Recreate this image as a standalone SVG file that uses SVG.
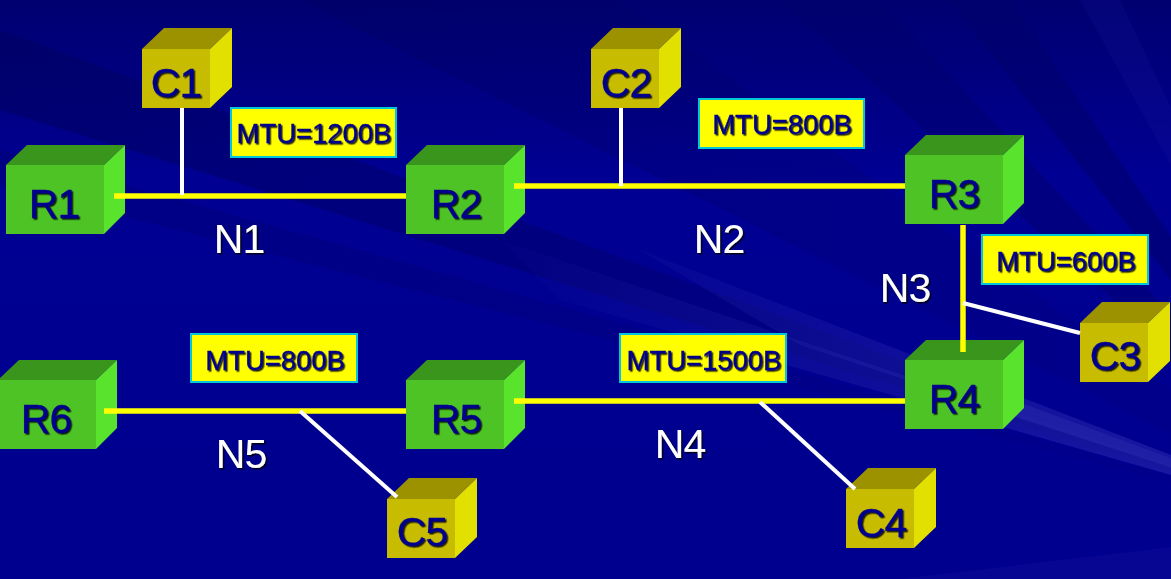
<svg xmlns="http://www.w3.org/2000/svg" width="1171" height="579" viewBox="0 0 1171 579">
<style>
text{font-family:"Liberation Sans",Arial,sans-serif}
.lab{font-size:41px;letter-spacing:-1px;fill:#00008c;stroke:#00008c;stroke-width:.3;text-anchor:middle;filter:url(#sh)}
.mtu{font-size:27.6px;letter-spacing:-.1px;fill:#00008c;stroke:#00008c;stroke-width:.3;text-anchor:middle;filter:url(#sh)}
.n{font-size:41px;letter-spacing:-1px;fill:#fff;text-anchor:middle;filter:url(#sh)}
.box{fill:#ffff00;stroke:#00c8d8;stroke-width:2}
.y{stroke:#ffff00;stroke-width:5.5;fill:none}
.w{stroke:#fff;stroke-width:4;fill:none}
.rf{fill:#4dc325}.rt{fill:#3a951d}.rs{fill:#5ae32c}
.cf{fill:#c8bc00}.ct{fill:#9c9200}.cs{fill:#e2e000}
</style>
<defs>
<linearGradient id="bg" x1="0" y1="0" x2="0" y2="1"><stop offset="0" stop-color="#000070"/><stop offset="0.3" stop-color="#000092"/><stop offset="1" stop-color="#00008e"/></linearGradient>
<linearGradient id="lt" gradientUnits="userSpaceOnUse" x1="1171" y1="0" x2="450" y2="0"><stop offset="0" stop-color="#2a2ab0" stop-opacity=".55"/><stop offset="1" stop-color="#2a2ab0" stop-opacity="0"/></linearGradient>
<linearGradient id="dk" gradientUnits="userSpaceOnUse" x1="0" y1="0" x2="1171" y2="0"><stop offset="0" stop-color="#000060" stop-opacity=".55"/><stop offset="1" stop-color="#000060" stop-opacity=".15"/></linearGradient>
<filter id="sh" x="-10%" y="-10%" width="125%" height="125%"><feDropShadow dx="1.5" dy="1.5" stdDeviation="0.7" flood-color="#000" flood-opacity="0.85"/></filter>
<g id="router"><path class="rf" d="M0 20H98V89H0Z"/><path class="rt" d="M0 20L21 0H119L98 20Z"/><path class="rs" d="M98 20L119 0V68L98 89Z"/></g>
<g id="client"><path class="cf" d="M0 21H68V80H0Z"/><path class="ct" d="M0 21L22 0H90L68 21Z"/><path class="cs" d="M68 21L90 0V59L68 80Z"/></g>
</defs>
<rect width="1171" height="579" fill="url(#bg)"/>
<g id="background-rays">
<path d="M1373 533L0 30V110Z" fill="url(#dk)"/>
<path d="M1373 533L0 150V185Z" fill="url(#dk)" opacity=".5"/>
<path d="M1373 533L300 0H620Z" fill="url(#dk)" opacity=".7"/>
<path d="M1373 533L500 240L560 300Z" fill="url(#lt)"/>
<path d="M1373 533L640 250L800 345Z" fill="url(#lt)"/>
<path d="M1373 533L1000 395L1000 412Z" fill="#2222a8" opacity=".8"/>
<path d="M1373 533L780 0H880Z" fill="#00006c" opacity=".45"/>
<path d="M1373 533L948 0H1010Z" fill="#00006c" opacity=".55"/>
<path d="M1373 533L1080 0H1120Z" fill="#2020a8" opacity=".15"/>
<path d="M1171 547L900 579H1171Z" fill="#1414a0" opacity=".3"/>
</g>
<g id="R1"><use href="#router" x="6" y="145"/><text class="lab" x="54" y="218">R1</text></g>
<g id="R2"><use href="#router" x="406" y="145"/><text class="lab" x="456" y="218">R2</text></g>
<g id="R3"><use href="#router" x="905" y="135"/><text class="lab" x="954" y="208">R3</text></g>
<g id="R4"><use href="#router" x="905" y="340"/><text class="lab" x="954" y="413">R4</text></g>
<g id="R5"><use href="#router" x="406" y="360"/><text class="lab" x="456" y="433">R5</text></g>
<g id="R6"><use href="#router" x="-2" y="360"/><text class="lab" x="46" y="433">R6</text></g>
<g id="C1"><use href="#client" x="142" y="28"/><text class="lab" x="176" y="97">C1</text></g>
<g id="C2"><use href="#client" x="591" y="28"/><text class="lab" x="626" y="97">C2</text></g>
<g id="C3"><use href="#client" x="1080" y="302"/><text class="lab" x="1115" y="370">C3</text></g>
<g id="C4"><use href="#client" x="846" y="468"/><text class="lab" x="881" y="537">C4</text></g>
<g id="C5"><use href="#client" x="387" y="478"/><text class="lab" x="422" y="546">C5</text></g>
<g id="connectors">
<path class="y" d="M114 196H406"/><path class="y" d="M514 186H905"/><path class="y" d="M963 225V352"/><path class="y" d="M514 401H905"/><path class="y" d="M104 411H406"/>
<path class="w" d="M182 108V195"/><path class="w" d="M621 108V186"/><path class="w" d="M963 303L1080 333"/><path class="w" d="M760 402L855 489"/><path class="w" d="M300 411L397 497"/>
</g>
<g id="L1"><rect class="box" x="231" y="108" width="165" height="49"/><text class="mtu" x="314" y="143">MTU=1200B</text></g>
<g id="L2"><rect class="box" x="699" y="99" width="165" height="49"/><text class="mtu" x="782" y="134">MTU=800B</text></g>
<g id="L3"><rect class="box" x="982" y="235" width="166" height="49"/><text class="mtu" x="1066" y="271">MTU=600B</text></g>
<g id="L4"><rect class="box" x="191" y="334" width="166" height="48"/><text class="mtu" x="275" y="370">MTU=800B</text></g>
<g id="L5"><rect class="box" x="620" y="334" width="166" height="48"/><text class="mtu" x="704" y="370">MTU=1500B</text></g>
<g id="N1"><text class="n" x="239" y="253">N1</text></g>
<g id="N2"><text class="n" x="719" y="253">N2</text></g>
<g id="N3"><text class="n" x="905" y="302">N3</text></g>
<g id="N4"><text class="n" x="680" y="458">N4</text></g>
<g id="N5"><text class="n" x="241" y="468">N5</text></g>
</svg>
